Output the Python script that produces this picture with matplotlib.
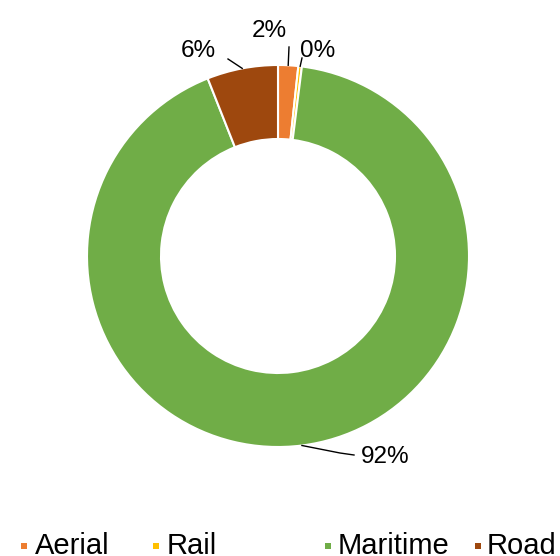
import matplotlib
matplotlib.use('Agg')
import matplotlib.pyplot as plt
from matplotlib.patches import Rectangle
import numpy as np

categories = ['Aerial', 'Rail', 'Maritime', 'Road']
values = [1.7, 0.3, 92.0, 6.0]
colors = ['#ED7D31', '#FFC000', '#70AD47', '#9E480E']

plt.rcParams['font.family'] = ['Liberation Sans', 'DejaVu Sans']

W, H = 560, 556
fig = plt.figure(figsize=(W / 100, H / 100), dpi=100)
ax = fig.add_axes([0, 0, 1, 1])

cx, cy = 278, H - 256
R = 191
ring = 74
wedges, _ = ax.pie(values, colors=colors, startangle=90, counterclock=False,
                   radius=R, center=(cx, cy),
                   wedgeprops=dict(width=ring, edgecolor='white', linewidth=1.5))
ax.set_xlim(0, W)
ax.set_ylim(0, H)
ax.set_aspect('auto')
ax.axis('off')

# label placement (pixel coords from top-left): text anchor, leader elbow points
label_pos = {
    'Aerial': ((269, 37), [(289, 47)]),
    'Rail': ((318, 57), [(302, 58)]),
    'Maritime': ((385, 463), [(340, 453), (354, 455)]),
    'Road': ((198, 57), [(228, 59)]),
}

for w, cat, v in zip(wedges, categories, values):
    th = np.deg2rad((w.theta1 + w.theta2) / 2)
    px, py = cx + R * np.cos(th), cy + R * np.sin(th)
    (tx, ty), elbows = label_pos[cat]
    xs = [px] + [e[0] for e in elbows]
    ys = [py] + [H - e[1] for e in elbows]
    ax.plot(xs, ys, color='black', lw=1.0)
    ax.text(tx, H - ty, f'{v:.0f}%', ha='center', va='baseline', fontsize=17.5,
            color='#000000')

# legend (manual layout as in reference)
legend_x = [(21, 35), (153, 167), (325, 338), (475, 487)]
for (mx, tx), cat, c in zip(legend_x, categories, colors):
    ax.add_patch(Rectangle((mx, H - 549), 6, 6, facecolor=c, edgecolor='none'))
    ax.text(tx, H - 554.5, cat, ha='left', va='baseline', fontsize=21, color='#000000')

fig.savefig('out.png', dpi=100)
